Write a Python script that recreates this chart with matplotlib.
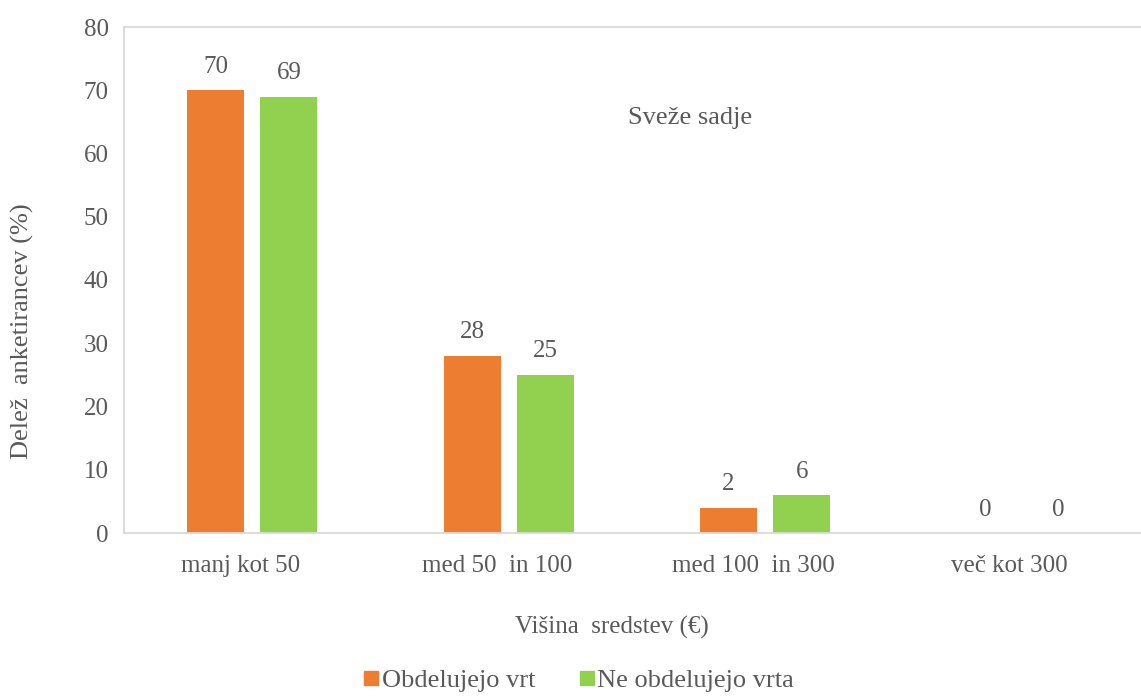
import matplotlib
matplotlib.use("Agg")
import matplotlib.pyplot as plt
import numpy as np
from matplotlib.lines import Line2D

categories = ["manj kot 50", "med 50  in 100", "med 100  in 300", "več kot 300"]
series_names = ["Obdelujejo vrt", "Ne obdelujejo vrta"]
garden = [70, 28, 4, 0]
no_garden = [69, 25, 6, 0]
garden_labels = ["70", "28", "2", "0"]
no_garden_labels = ["69", "25", "6", "0"]
y_ticks = [0, 10, 20, 30, 40, 50, 60, 70, 80]

ORANGE = "#ED7D31"
GREEN = "#92D050"
TEXT = "#595959"
SPINE = "#D9D9D9"

plt.rcParams["font.family"] = ["Liberation Serif", "DejaVu Serif"]

fig = plt.figure(figsize=(11.41, 6.97), dpi=100)
ax = fig.add_axes([124 / 1141, 1 - 533 / 697, 1026 / 1141, 506 / 697])

x = np.arange(len(categories))
w = 0.222
off = 0.143
b1 = ax.bar(x - off, garden, w, color=ORANGE, zorder=2)
b2 = ax.bar(x + off, no_garden, w, color=GREEN, zorder=2)

for rects, labs in ((b1, garden_labels), (b2, no_garden_labels)):
    for r, lab in zip(rects, labs):
        ax.annotate(lab, (r.get_x() + r.get_width() / 2, r.get_height()),
                    xytext=(0, 9), textcoords="offset points",
                    ha="center", va="bottom", fontsize=18, color=TEXT)

ax.set_xlim(-0.5, len(categories) - 0.5)
ax.set_ylim(0, 80)
ax.set_yticks(y_ticks)
ax.set_xticks(x - 0.047)
ax.set_xticklabels(categories)

ax.tick_params(axis="both", length=0, labelsize=18, colors=TEXT)
ax.tick_params(axis="y", pad=11)
ax.tick_params(axis="x", pad=16)

for s in ["left", "bottom", "top"]:
    ax.spines[s].set_color(SPINE)
    ax.spines[s].set_linewidth(1.3)
ax.spines["right"].set_visible(False)

ax.text(0.552, 0.82, "Sveže sadje", transform=ax.transAxes, ha="center",
        va="center", fontsize=19, color=TEXT)

fig.text(22 / 1141, 1 - 331 / 697, "Delež  anketirancev (%)", rotation=90,
         ha="center", va="center", fontsize=19, color=TEXT)
fig.text(612 / 1141, 1 - 627 / 697, "Višina  sredstev (€)", ha="center",
         va="center", fontsize=18, color=TEXT)

handles = [Line2D([], [], marker="s", linestyle="none", markersize=10,
                  markerfacecolor=c, markeredgecolor=c) for c in (ORANGE, GREEN)]
fig.legend(handles, series_names, loc="lower center", bbox_to_anchor=(578 / 1141, -0.012),
           ncol=2, frameon=False, fontsize=19, labelcolor=TEXT, handletextpad=0.05,
           columnspacing=1.6, handlelength=0.7, borderpad=0.0)

fig.savefig("out.png", dpi=100)
